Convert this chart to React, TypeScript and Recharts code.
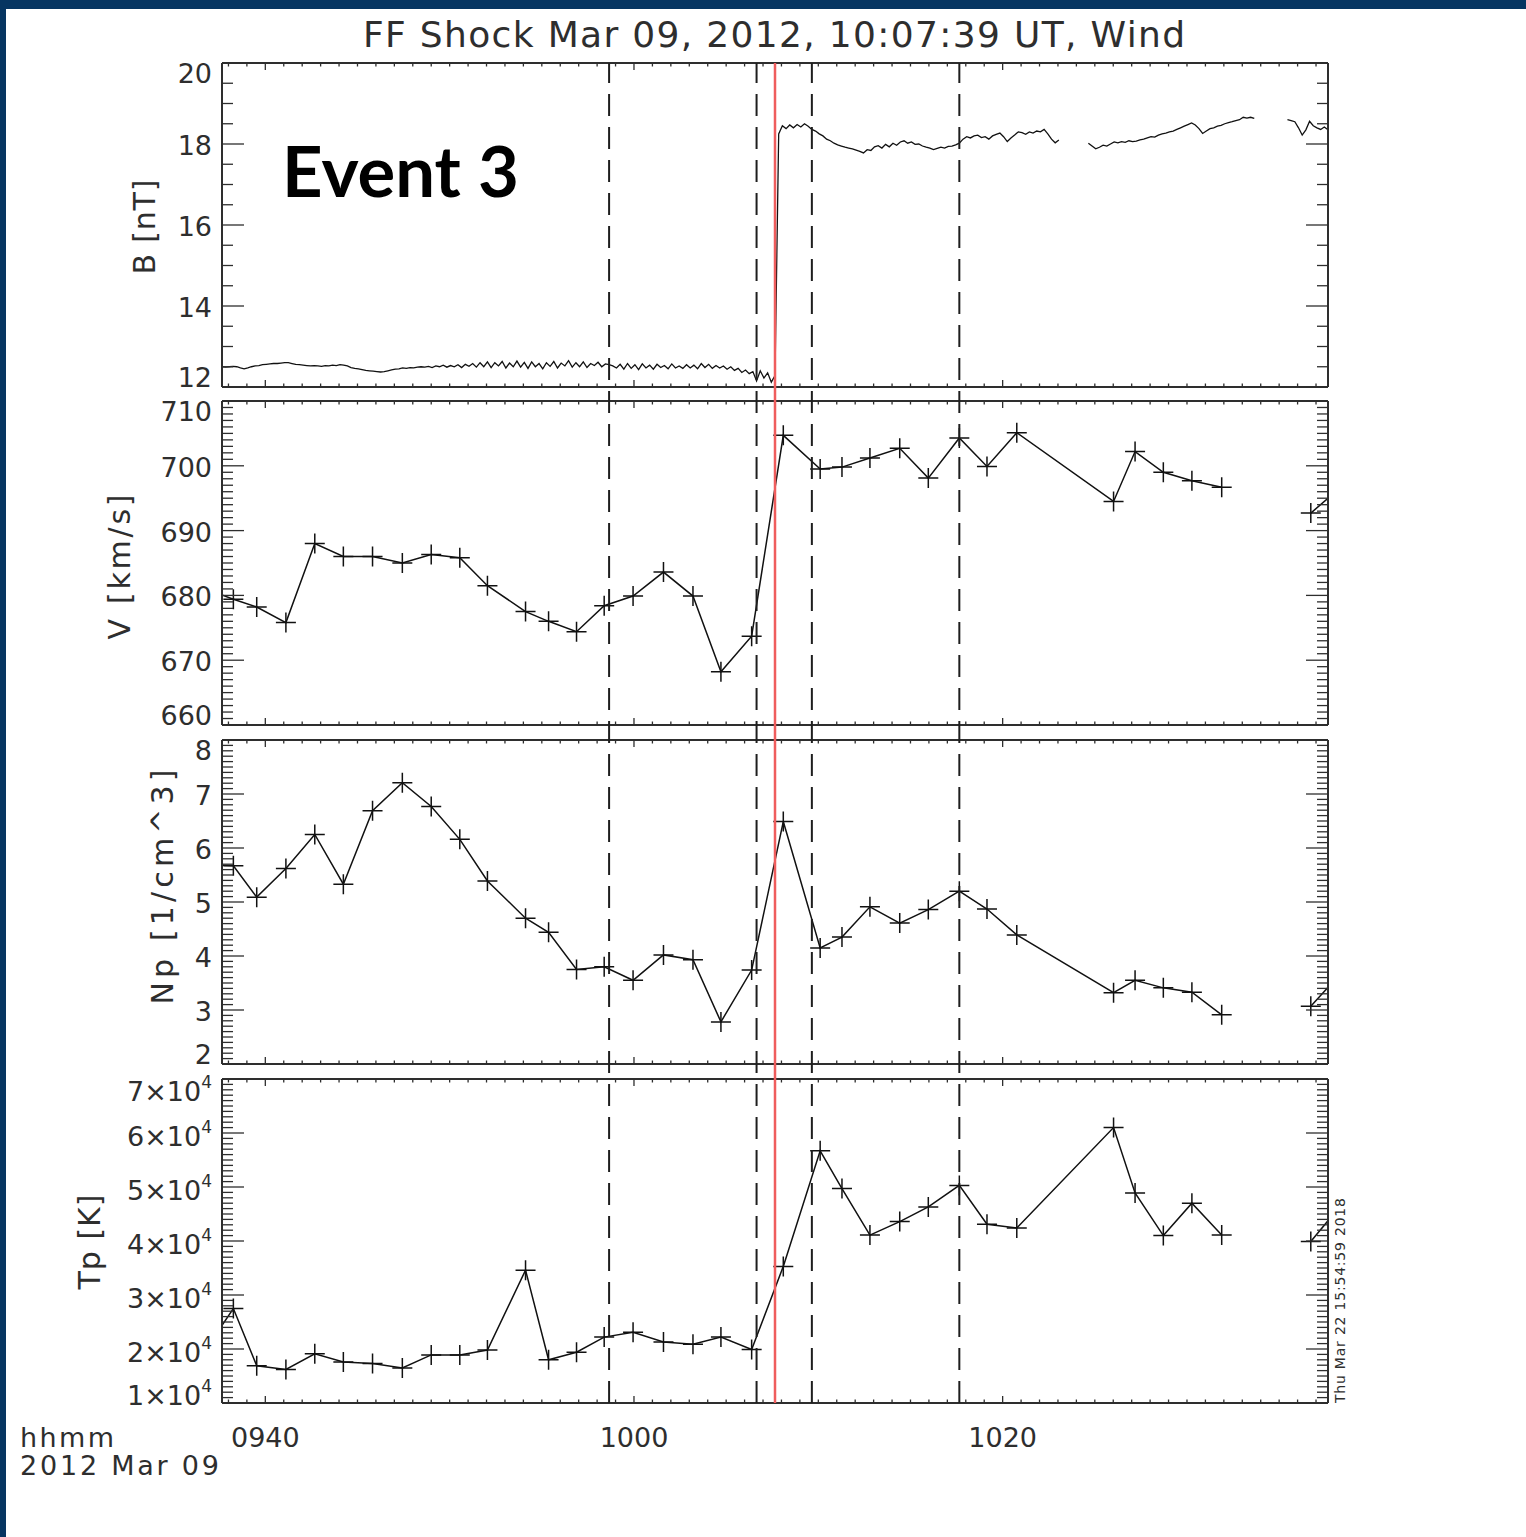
import React from 'react';
import { LineChart, Line, XAxis, YAxis, ReferenceLine } from 'recharts';

// times of interest
const shockTime = '10:07:39';
const windowStart = '09:37:39';
const windowEnd = '10:37:39';
const dashedTimes = ['09:58:39', '10:06:39', '10:09:39', '10:17:39'];
const xLabelTimes = ['09:40', '10:00', '10:20'];

// plasma moments (SWE), null = data gap
const swTimes = [
  '09:36:45', '09:38:16', '09:39:32', '09:41:07', '09:42:41', '09:44:14', '09:45:49', '09:47:26',
  '09:49:00', '09:50:33', '09:52:03', '09:54:07', '09:55:22', '09:56:53', '09:58:23', '09:59:57',
  '10:01:36', '10:03:12', '10:04:43', '10:06:23', '10:08:06', '10:10:06', '10:11:17', '10:12:48',
  '10:14:25', '10:15:58', '10:17:39', '10:19:09', '10:20:46', '10:26:01', '10:27:11', '10:28:43',
  '10:30:16', '10:31:53', '10:34:18', '10:36:43', '10:38:16',
];
const speed = [
  681.0, 679.4, 678.2, 675.8, 688.0, 686.0, 686.0, 685.0,
  686.3, 685.8, 681.5, 677.5, 676.0, 674.4, 678.4, 679.9,
  683.6, 679.9, 668.2, 673.7, 704.7, 699.5, 699.8, 701.2,
  702.7, 698.1, 704.3, 699.9, 705.1, 694.5, 702.2, 699.0,
  697.7, 696.7, null, 692.7, 696.5,
];
const density = [
  5.70, 5.67, 5.09, 5.62, 6.25, 5.33, 6.69, 7.21,
  6.77, 6.16, 5.39, 4.70, 4.44, 3.75, 3.80, 3.55,
  4.02, 3.93, 2.78, 3.74, 6.49, 4.15, 4.35, 4.91,
  4.61, 4.86, 5.20, 4.87, 4.39, 3.32, 3.55, 3.41,
  3.33, 2.91, null, 3.07, 3.65,
];
const temperature = [
  19800, 27500, 16900, 16200, 19100, 17600, 17300, 16500,
  18900, 18900, 19800, 34600, 18000, 19400, 22200, 23100,
  21300, 20900, 22200, 19900, 35300, 56700, 49700, 41100,
  43600, 46300, 50300, 43100, 42400, 61000, 48900, 41000,
  47000, 41100, null, 39900, 46300,
];

// magnetic field magnitude, one value every 12 s from bStart
const bStart = '09:37:39';
const bStepSec = 12;
const bField = [
  12.50, 12.49, 12.50, 12.51, 12.50, 12.47, 12.45, 12.47, 12.50, 12.52,
  12.53, 12.55, 12.56, 12.57, 12.58, 12.58, 12.59, 12.60, 12.60, 12.58,
  12.56, 12.55, 12.54, 12.53, 12.52, 12.53, 12.52, 12.51, 12.53, 12.52,
  12.54, 12.53, 12.55, 12.54, 12.52, 12.48, 12.46, 12.45, 12.43, 12.41,
  12.40, 12.39, 12.38, 12.37, 12.38, 12.40, 12.42, 12.44, 12.45, 12.47,
  12.46, 12.48, 12.47, 12.49, 12.50, 12.49, 12.51, 12.48, 12.52, 12.50,
  12.54, 12.49, 12.53, 12.50, 12.55, 12.48, 12.56, 12.51, 12.58, 12.49,
  12.60, 12.50, 12.62, 12.48, 12.60, 12.52, 12.63, 12.47, 12.59, 12.50,
  12.64, 12.49, 12.61, 12.46, 12.62, 12.50, 12.58, 12.45, 12.60, 12.51,
  12.63, 12.47, 12.59, 12.52, 12.65, 12.49, 12.60, 12.50, 12.62, 12.48,
  12.58, 12.53, 12.61, 12.50, 12.57, 12.55, 12.52, 12.47, 12.56, 12.44,
  12.58, 12.46, 12.55, 12.43, 12.57, 12.47, 12.54, 12.44, 12.56, 12.48,
  12.53, 12.45, 12.57, 12.47, 12.52, 12.46, 12.55, 12.47, 12.54, 12.45,
  12.58, 12.48, 12.56, 12.46, 12.53, 12.47, 12.52, 12.44, 12.50, 12.41,
  12.46, 12.36, 12.42, 12.33, 12.38, 12.15, 12.40, 12.22, 12.35, 12.12,
  12.28,
  18.25, 18.45, 18.38, 18.47, 18.40, 18.48, 18.42, 18.50, 18.44, 18.36,
  18.32, 18.25, 18.20, 18.12, 18.08, 18.02, 17.98, 17.95, 17.92, 17.90,
  17.88, 17.85, 17.82, 17.78, 17.86, 17.84, 17.93, 17.96, 17.90, 17.99,
  17.93, 18.02, 17.97, 18.05, 18.08, 18.02, 18.05, 17.99, 18.00, 17.95,
  17.92, 17.90, 17.86, 17.89, 17.92, 17.90, 17.94, 17.95, 17.98, 18.02,
  18.12, 18.18, 18.15, 18.20, 18.22, 18.16, 18.18, 18.12, 18.20, 18.24,
  18.27, 18.18, 18.06, 18.15, 18.22, 18.30, 18.28, 18.24, 18.30, 18.27,
  18.32, 18.30, 18.36, 18.25, 18.12, 18.03, 18.10,
  null, null, null, null, null, null, null,
  18.02, 17.95, 17.88, 17.92, 17.97, 17.95, 18.00, 18.05, 18.03, 18.06,
  18.04, 18.08, 18.06, 18.07, 18.10, 18.12, 18.15, 18.18, 18.17, 18.22,
  18.25, 18.27, 18.30, 18.32, 18.36, 18.40, 18.44, 18.48, 18.52, 18.47,
  18.38, 18.26, 18.32, 18.38, 18.40, 18.44, 18.46, 18.50, 18.53, 18.55,
  18.58, 18.60, 18.66, 18.64, 18.66, 18.63,
  null, null, null, null, null, null, null, null,
  18.60, 18.58, 18.55, 18.40, 18.22, 18.35, 18.56, 18.45, 18.40, 18.36, 18.42, 18.35,
];

const toMin = (s: string) => {
  const [h, m, sec = '0'] = s.split(':');
  return Number(h) * 60 + Number(m) + Number(sec) / 60;
};

const W = 1526;
const LEFT = 222;
const RIGHT = 1328;
const PANEL_H = 324;
const PAD = 20;
const INK = '#2e2e2e';
const FONT = "'DejaVu Sans', sans-serif";
const X_DOMAIN: [number, number] = [toMin(windowStart), toMin(windowEnd)];

const swRows = swTimes.map((s, i) => ({
  t: toMin(s),
  v: speed[i],
  n: density[i],
  tp: temperature[i],
}));
const bRows = bField.map((b, i) => ({ t: toMin(bStart) + (i * bStepSec) / 60, b }));
const markRows = [{ t: toMin(windowStart), y: 0 }, { t: toMin(windowEnd), y: 1 }];

const steps = (lo: number, hi: number, step: number) => {
  const n = Math.round((hi - lo) / step);
  return Array.from({ length: n + 1 }, (_, i) => +(lo + i * step).toFixed(6));
};
const isMult = (v: number, step: number) => Math.abs(v / step - Math.round(v / step)) < 1e-6;

const xMajor = xLabelTimes.map(toMin);
const xTicks = steps(Math.ceil(X_DOMAIN[0]), Math.floor(X_DOMAIN[1]), 1);

const xTick = (side: 'top' | 'bottom', labels: boolean) => (p: any) => {
  const v = p.payload.value;
  const idx = xMajor.indexOf(v);
  const major = idx >= 0;
  const len = major ? 7 : 3.5;
  const dir = side === 'bottom' ? -1 : 1;
  return (
    <g>
      <line x1={p.x} y1={p.y} x2={p.x} y2={p.y + dir * len} stroke={INK} strokeWidth={1.3} />
      {labels && major && (
        <text x={p.x} y={p.y + 44} textAnchor="middle" fontFamily={FONT} fontSize={27} fill={INK}>
          {xLabelTimes[idx].replace(':', '')}
        </text>
      )}
    </g>
  );
};

const yTick = (
  side: 'left' | 'right',
  major: number,
  lo: number,
  hi: number,
  fmt: (v: number) => React.ReactNode,
  base: number,
) => (p: any) => {
  const v = p.payload.value;
  const isMajor = isMult(v, major);
  const len = isMajor ? 22 : 11;
  const dx = side === 'left' ? len : -len;
  let ty = p.y + base;
  if (Math.abs(v - hi) < 1e-9) ty += 9;
  if (Math.abs(v - lo) < 1e-9) ty -= 11;
  return (
    <g>
      <line x1={p.x} y1={p.y} x2={p.x + dx} y2={p.y} stroke={INK} strokeWidth={1.3} />
      {side === 'left' && isMajor && (
        <text x={p.x - 10} y={ty} textAnchor="end" fontFamily={FONT} fontSize={27} fill={INK}>
          {fmt(v)}
        </text>
      )}
    </g>
  );
};

const plusDot = (p: any) => {
  const { cx, cy, index } = p;
  if (cx == null || cy == null || p.value == null) return <g key={index} />;
  return (
    <path
      key={index}
      d={`M${cx - 10},${cy}H${cx + 10}M${cx},${cy - 10}V${cy + 10}`}
      stroke="#111"
      strokeWidth={1.5}
      fill="none"
    />
  );
};

type PanelProps = {
  top: number;
  data: any[];
  dataKey: string;
  domain: [number, number];
  minor: number;
  major: number;
  fmt: (v: number) => React.ReactNode;
  base?: number;
  dots?: boolean;
  xLabels?: boolean;
};

const Panel = ({ top, data, dataKey, domain, minor, major, fmt, base = 11, dots = true, xLabels = false }: PanelProps) => {
  const yTicks = steps(domain[0], domain[1], minor);
  const frame = { stroke: INK, strokeWidth: 2 };
  const padBottom = xLabels ? 70 : PAD;
  // axes are 1px thick, so margins are 1px smaller to keep the plot box in place
  return (
    <div style={{ position: 'absolute', left: 0, top: top - PAD }}>
      <LineChart
        width={W}
        height={PANEL_H + PAD + padBottom}
        data={data}
        margin={{ top: PAD - 1, right: W - RIGHT - 1, bottom: padBottom - 1, left: LEFT - 1 }}
      >
        <XAxis
          xAxisId="bottom"
          type="number"
          dataKey="t"
          domain={X_DOMAIN}
          allowDataOverflow
          ticks={xTicks}
          interval={0}
          height={1}
          tickSize={0}
          tickMargin={0}
          tickLine={false}
          axisLine={frame}
          tick={xTick('bottom', xLabels)}
        />
        <XAxis
          xAxisId="top"
          orientation="top"
          type="number"
          dataKey="t"
          domain={X_DOMAIN}
          allowDataOverflow
          ticks={xTicks}
          interval={0}
          height={1}
          tickSize={0}
          tickMargin={0}
          tickLine={false}
          axisLine={frame}
          tick={xTick('top', false)}
        />
        <YAxis
          yAxisId="left"
          type="number"
          domain={domain}
          allowDataOverflow
          ticks={yTicks}
          interval={0}
          width={1}
          tickSize={0}
          tickMargin={0}
          tickLine={false}
          axisLine={frame}
          tick={yTick('left', major, domain[0], domain[1], fmt, base)}
        />
        <YAxis
          yAxisId="right"
          orientation="right"
          type="number"
          domain={domain}
          allowDataOverflow
          ticks={yTicks}
          interval={0}
          width={1}
          tickSize={0}
          tickMargin={0}
          tickLine={false}
          axisLine={frame}
          tick={yTick('right', major, domain[0], domain[1], fmt, base)}
        />
        <Line
          xAxisId="bottom"
          yAxisId="left"
          type="linear"
          dataKey={dataKey}
          stroke="#111"
          strokeWidth={dots ? 1.5 : 1.3}
          dot={dots ? plusDot : false}
          activeDot={false}
          connectNulls={false}
          isAnimationActive={false}
        />
      </LineChart>
    </div>
  );
};

const tpLabel = (v: number) => (
  <>
    {`${Math.round(v / 1e4)}×10`}
    <tspan dy={-13} fontSize={17}>4</tspan>
  </>
);

const axisTitle = (text: string, x: number, y: number, len: number) => (
  <text
    x={x}
    y={y}
    transform={`rotate(-90 ${x} ${y})`}
    textAnchor="middle"
    fontFamily={FONT}
    fontSize={30}
    fill={INK}
    textLength={len}
    lengthAdjust="spacing"
  >
    {text}
  </text>
);

export default function App() {
  return (
    <div style={{ position: 'absolute', left: 0, top: 0, width: W, height: 1537, background: '#063561', overflow: 'hidden' }}>
      <div style={{ position: 'absolute', left: 6, top: 9, right: 0, bottom: 0, background: '#fff' }} />
      <svg style={{ position: 'absolute', left: 0, top: 0 }} width={W} height={1537}>
        <text x={363} y={47} fontFamily={FONT} fontSize={36} fill={INK} textLength={822} lengthAdjust="spacing">
          FF Shock Mar 09, 2012, 10:07:39 UT, Wind
        </text>
        <text
          x={282}
          y={197}
          fontFamily="Lato, 'Open Sans', sans-serif"
          fontWeight={700}
          fontSize={70}
          fill="#000"
          textLength={237}
          lengthAdjust="spacingAndGlyphs"
        >
          Event 3
        </text>
        {axisTitle('B [nT]', 155, 227, 95)}
        {axisTitle('V [km/s]', 130, 567, 145)}
        {axisTitle('Np [1/cm^3]', 173, 887, 235)}
        {axisTitle('Tp [K]', 100, 1242, 95)}
        <text x={20} y={1447} fontFamily={FONT} fontSize={27} fill={INK} textLength={94} lengthAdjust="spacing">
          hhmm
        </text>
        <text x={20} y={1475} fontFamily={FONT} fontSize={27} fill={INK} textLength={199} lengthAdjust="spacing">
          2012 Mar 09
        </text>
        <text
          x={1345}
          y={1403}
          transform="rotate(-90 1345 1403)"
          fontFamily={FONT}
          fontSize={14}
          fill={INK}
          textLength={205}
          lengthAdjust="spacing"
        >
          Thu Mar 22 15:54:59 2018
        </text>
      </svg>

      <Panel top={63} data={bRows} dataKey="b" domain={[12, 20]} minor={0.5} major={2} fmt={(v) => String(v)} dots={false} />
      <Panel top={401} data={swRows} dataKey="v" domain={[660, 710]} minor={1} major={10} fmt={(v) => String(v)} />
      <Panel top={740} data={swRows} dataKey="n" domain={[2, 8]} minor={0.1} major={1} fmt={(v) => String(v)} />
      <Panel
        top={1079}
        data={swRows}
        dataKey="tp"
        domain={[10000, 70000]}
        minor={1000}
        major={10000}
        fmt={tpLabel}
        base={13}
        xLabels
      />

      {/* vertical event markers spanning all four panels */}
      <div style={{ position: 'absolute', left: 0, top: 63 - PAD, pointerEvents: 'none' }}>
        <LineChart
          width={W}
          height={1403 - 63 + 2 * PAD}
          data={markRows}
          margin={{ top: PAD, right: W - RIGHT, bottom: PAD, left: LEFT }}
        >
          <XAxis type="number" dataKey="t" domain={X_DOMAIN} allowDataOverflow hide />
          <YAxis type="number" domain={[0, 1]} allowDataOverflow hide />
          <Line dataKey="y" stroke="none" dot={false} activeDot={false} isAnimationActive={false} />
          {dashedTimes.map((s) => (
            <ReferenceLine key={s} x={toMin(s)} stroke="#1e1e1e" strokeWidth={2} strokeDasharray="22 11" />
          ))}
          <ReferenceLine x={toMin(shockTime)} stroke="#ef5d5d" strokeWidth={2.5} />
        </LineChart>
      </div>
    </div>
  );
}
